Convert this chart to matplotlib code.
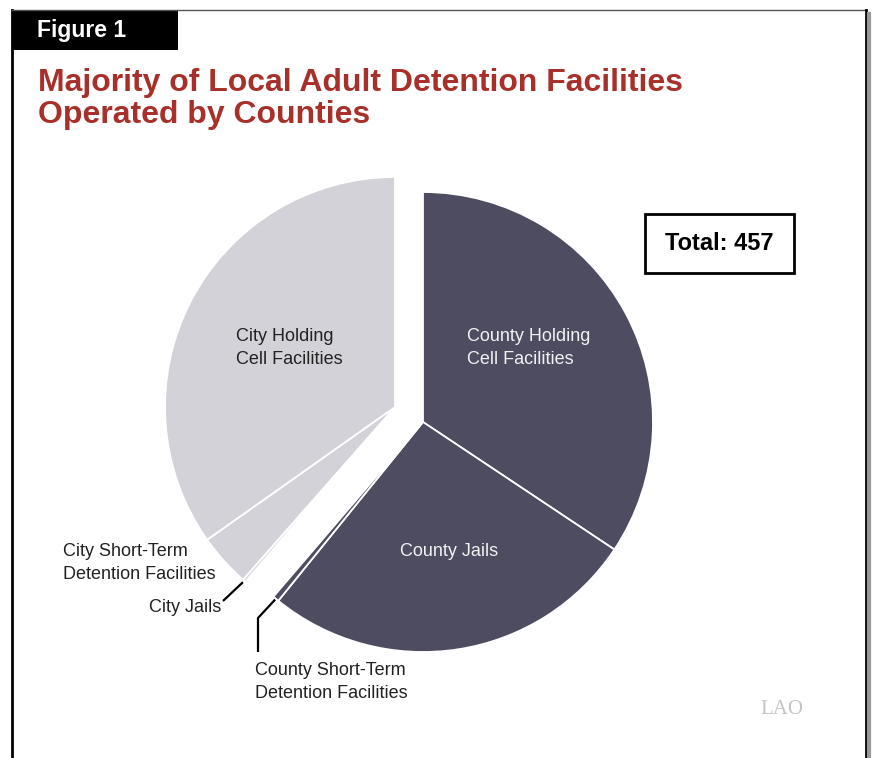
import numpy as np
import matplotlib.pyplot as plt
from matplotlib.patches import Rectangle
from matplotlib.lines import Line2D

W, H = 872, 758

# facility counts, clockwise from 12 o'clock
labels = ["County Holding\nCell Facilities", "County Jails",
          "County Short-Term\nDetention Facilities", "City Jails",
          "City Short-Term\nDetention Facilities", "City Holding\nCell Facilities"]
counts = [157, 121, 2, 1, 17, 159]
operator = ["County", "County", "County", "City", "City", "City"]
total = sum(counts)

DARK = "#4d4c60"
LIGHT = "#d3d2d9"
RED = "#a8302a"

plt.rcParams['font.family'] = ['Liberation Sans', 'DejaVu Sans']

fig = plt.figure(figsize=(W / 100, H / 100), dpi=100)
ax = fig.add_axes([0, 0, 1, 1])

# the two groups are pulled apart as whole halves
county_c = (423, H - 422)
city_c = (395, H - 407)
R = 230

wedges, _ = ax.pie(counts, startangle=90, counterclock=False, center=county_c, radius=R,
                   colors=[DARK if o == "County" else LIGHT for o in operator],
                   wedgeprops=dict(edgecolor="white", linewidth=1.3))
for w, o in zip(wedges, operator):
    if o == "City":
        w.set_center(city_c)

ax.set_xlim(0, W)
ax.set_ylim(0, H)
ax.set_aspect('equal')
ax.axis('off')


def edge_pt(w, extra=0):
    a = np.deg2rad((w.theta1 + w.theta2) / 2)
    cx, cy = w.center
    return cx + (w.r + extra) * np.cos(a), cy + (w.r + extra) * np.sin(a)


# labels inside the wedges
ax.text(467, H - 348, labels[0], fontsize=13, color="#f2f2f4", ha="left", va="center",
        linespacing=1.45)
ax.text(449, H - 551, labels[1], fontsize=13, color="#f2f2f4", ha="center", va="center")
ax.text(236, H - 348, labels[5], fontsize=13, color="#222222", ha="left", va="center",
        linespacing=1.45)

# outside labels with leader lines
ax.text(63, H - 563, labels[4], fontsize=13, color="#222222", ha="left", va="center",
        linespacing=1.45)
ax.text(221, H - 607, labels[3], fontsize=13, color="#222222", ha="right", va="center")
x0, y0 = edge_pt(wedges[3], 2)
ax.plot([x0, 223], [y0, H - 601], color="black", lw=1.6, solid_capstyle="butt")

ax.text(255, H - 682, labels[2], fontsize=13, color="#222222", ha="left", va="center",
        linespacing=1.45)
x0, y0 = edge_pt(wedges[2], 1)
ax.plot([x0, 258, 258], [y0, H - 618, H - 652], color="black", lw=1.6,
        solid_capstyle="butt")

# total box
ax.add_patch(Rectangle((645, H - 273), 149, 59, facecolor="white", edgecolor="black", lw=2))
ax.text(719.5, H - 243, f"Total: {total}", fontsize=17, fontweight="bold",
        ha="center", va="center", color="black")

# header
ax.add_patch(Rectangle((12, H - 50), 166, 40, facecolor="black", edgecolor="none"))
ax.text(37, H - 30, "Figure 1", fontsize=16.5, fontweight="bold", color="white",
        ha="left", va="center")
ax.text(38, H - 99, "Majority of Local Adult Detention Facilities\nOperated by Counties",
        fontsize=23, fontweight="bold", color=RED, ha="left", va="center",
        linespacing=1.12)

# LAO mark
ax.text(782, H - 710, "LAO", fontsize=15, color="#c4c4c4", ha="center", va="center",
        family=['Liberation Serif', 'DejaVu Serif'])

# frame around the figure
fig.add_artist(Line2D([12 / W, 12 / W], [0, 1 - 10 / H], color="black", lw=2))
fig.add_artist(Line2D([12 / W, 866 / W], [1 - 10 / H, 1 - 10 / H], color="#555555", lw=1))
fig.add_artist(Line2D([866 / W, 866 / W], [0, 1 - 10 / H], color="black", lw=2))
fig.add_artist(Line2D([869 / W, 869 / W], [0, 1 - 14 / H], color="#999999", lw=3))

fig.savefig("out.png", dpi=100)
